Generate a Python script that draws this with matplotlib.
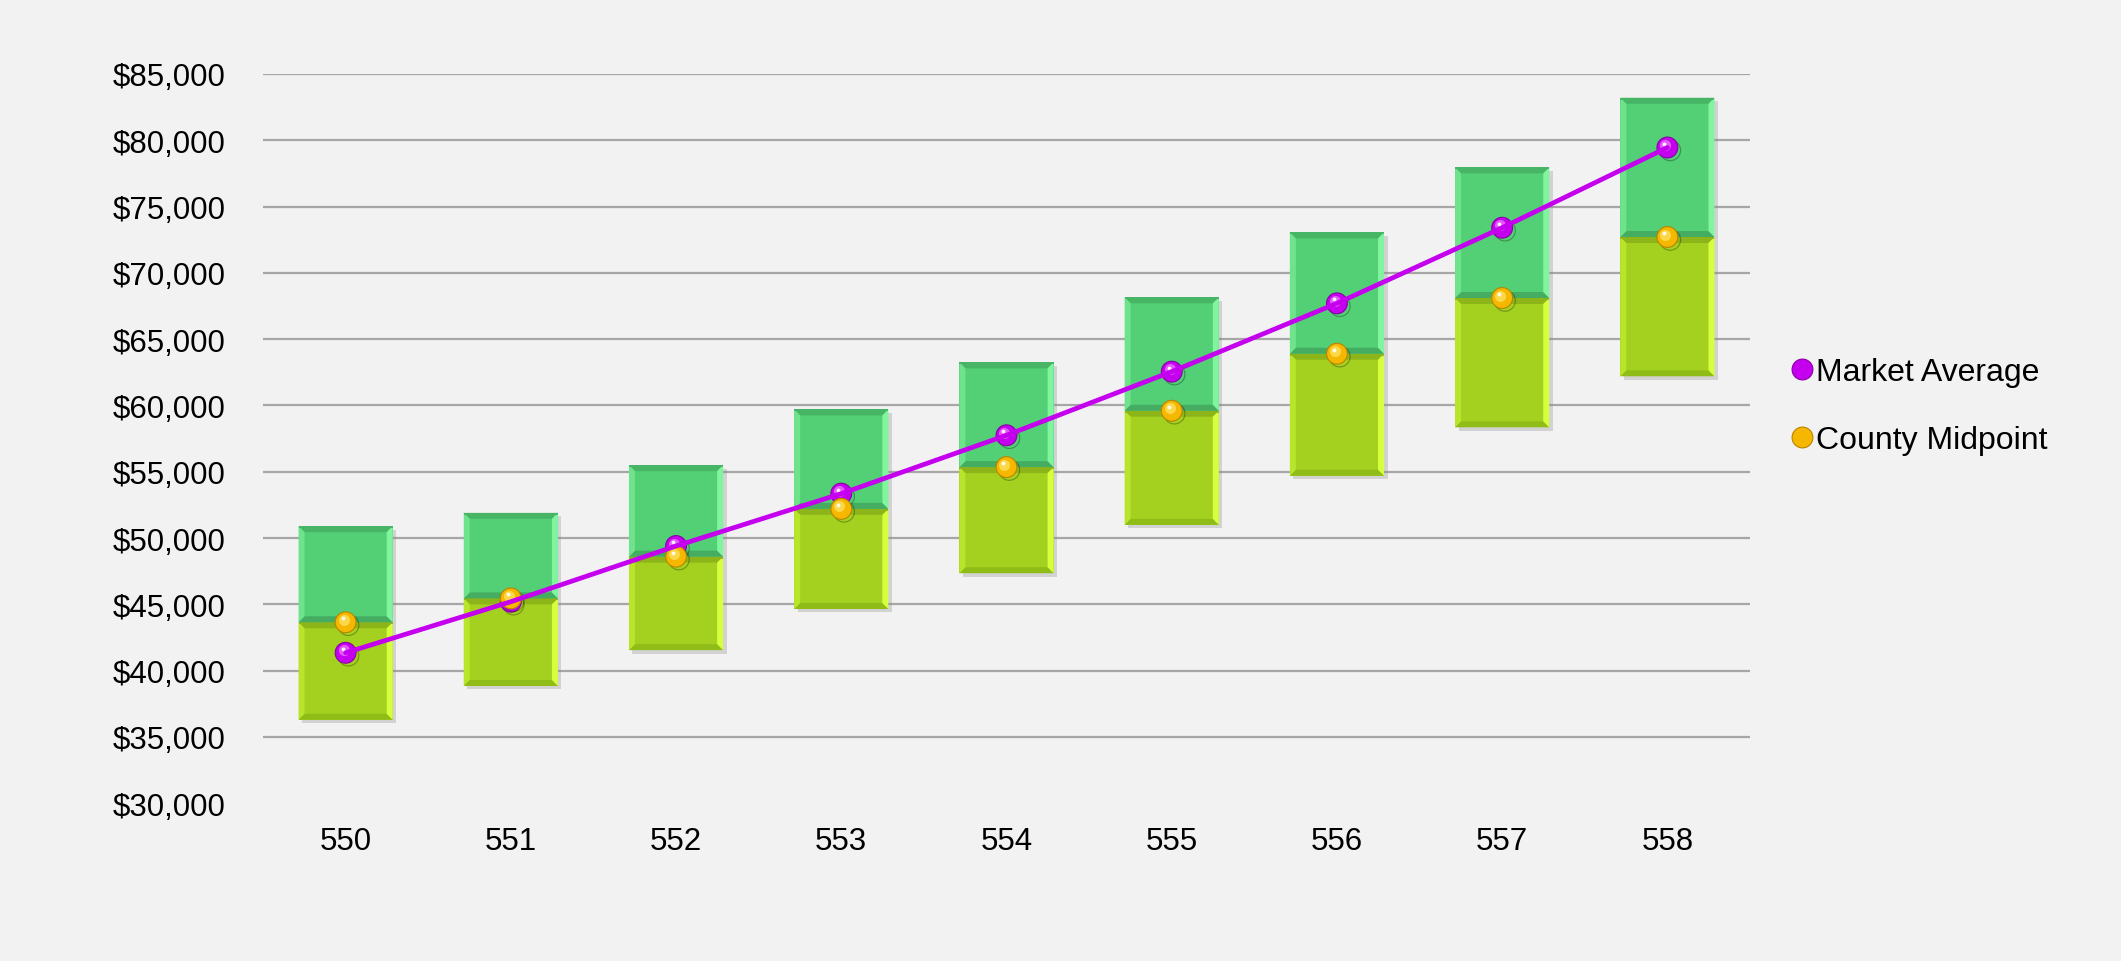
import matplotlib
matplotlib.use("Agg")
import matplotlib.pyplot as plt
import matplotlib.patheffects as pe
from matplotlib.patches import Polygon
from matplotlib.lines import Line2D
from matplotlib.transforms import offset_copy, IdentityTransform
from matplotlib.ticker import FuncFormatter

# Salary grades and ranges
grades = ["550", "551", "552", "553", "554", "555", "556", "557", "558"]
range_min = [36300, 38850, 41550, 44650, 47350, 51000, 54700, 58350, 62200]
county_mid = [43650, 45450, 48600, 52200, 55350, 59600, 63900, 68100, 72700]
range_max = [50900, 51900, 55500, 59700, 63250, 68150, 73050, 77950, 83200]
market_avg = [41350, 45200, 49400, 53350, 57750, 62550, 67700, 73400, 79450]

y_ticks = list(range(30000, 85001, 5000))

plt.rcParams["font.family"] = ["Liberation Sans", "DejaVu Sans"]

BG = "#F2F2F2"
DPI = 100
fig = plt.figure(figsize=(21.21, 9.62), dpi=DPI, facecolor=BG)
ax = fig.add_axes([263 / 2121, 1 - 804.3 / 962, (1750 - 263) / 2121, (804.3 - 74.9) / 962])
ax.set_facecolor(BG)

x = list(range(len(grades)))
ax.set_xlim(-0.5, len(grades) - 0.5)
ax.set_ylim(30000, 85000)

# gridlines (none at the baseline)
for v in y_ticks[1:]:
    ax.axhline(v, color="#A6A6A6", lw=1.6, zorder=0)

bar_w = 0.57
lower_h = [m - lo for m, lo in zip(county_mid, range_min)]
upper_h = [hi - m for hi, m in zip(range_max, county_mid)]

shadow = [pe.SimplePatchShadow(offset=(2.5, -2.5), shadow_rgbFace="#8a8a8a", alpha=0.3), pe.Normal()]
lower = ax.bar(x, lower_h, bottom=range_min, width=bar_w, color="#A4D11F", zorder=2,
               path_effects=shadow, linewidth=0)
upper = ax.bar(x, upper_h, bottom=county_mid, width=bar_w, color="#53CF75", zorder=2,
               path_effects=shadow, linewidth=0)


def add_bevel(rect, top_c, bot_c, left_c, right_c, bw=6):
    """Draw bevelled edges on a bar, in pixel units."""
    x0, y0 = ax.transData.transform((rect.get_x(), rect.get_y()))
    x1, y1 = ax.transData.transform((rect.get_x() + rect.get_width(), rect.get_y() + rect.get_height()))
    sides = [
        ([(x0, y1), (x1, y1), (x1 - bw, y1 - bw), (x0 + bw, y1 - bw)], top_c),
        ([(x0, y0), (x1, y0), (x1 - bw, y0 + bw), (x0 + bw, y0 + bw)], bot_c),
        ([(x0, y0), (x0, y1), (x0 + bw, y1 - bw), (x0 + bw, y0 + bw)], left_c),
        ([(x1, y0), (x1, y1), (x1 - bw, y1 - bw), (x1 - bw, y0 + bw)], right_c),
    ]
    for pts, c in sides:
        ax.add_patch(Polygon(pts, closed=True, facecolor=c, edgecolor="none",
                             transform=IdentityTransform(), zorder=3))
    # thin dark rim along the top
    ax.add_patch(Polygon([(x0, y1), (x1, y1), (x1, y1 - 2), (x0, y1 - 2)], closed=True,
                         facecolor=top_c, edgecolor="none", alpha=0.9,
                         transform=IdentityTransform(), zorder=3))


for r in lower:
    add_bevel(r, "#8DB51A", "#90BC17", "#B9E42C", "#D6FF3E")
for r in upper:
    add_bevel(r, "#47B466", "#44AD62", "#6FE38C", "#80F59E")


def sphere(values, base, edge, light, zorder):
    ax.plot(x, values, ls="none", marker="o", ms=15, mfc=base, mec=edge, mew=0.8, zorder=zorder,
            path_effects=[pe.SimpleLineShadow(offset=(2, -2), alpha=0.3), pe.Normal()])
    t = offset_copy(ax.transData, fig=fig, x=-2.0, y=2.5, units="dots")
    ax.plot(x, values, ls="none", marker="o", ms=8, mfc=light, mec="none", alpha=0.7,
            transform=t, zorder=zorder + 0.1)
    t2 = offset_copy(ax.transData, fig=fig, x=-3.0, y=4.0, units="dots")
    ax.plot(x, values, ls="none", marker="o", ms=2.8, mfc="white", mec="none", alpha=0.9,
            transform=t2, zorder=zorder + 0.2)


MAG = "#C400EE"
GOLD = "#F5B700"
sphere(market_avg, MAG, "#8A00A8", "#F280FF", 4)
sphere(county_mid, GOLD, "#B98400", "#FFE566", 5)
ax.plot(x, market_avg, color=MAG, lw=3.4, zorder=6, solid_capstyle="round")

ax.set_xticks(x)
ax.set_xticklabels(grades)
ax.set_yticks(y_ticks)
ax.yaxis.set_major_formatter(FuncFormatter(lambda v, p: f"${v:,.0f}"))
ax.tick_params(axis="both", length=0, labelsize=22.5, colors="black")
ax.tick_params(axis="x", pad=16)
ax.tick_params(axis="y", pad=27)
for s in ax.spines.values():
    s.set_visible(False)

handles = [
    Line2D([], [], ls="none", marker="o", ms=15, mfc=MAG, mec="#8A00A8", mew=0.8),
    Line2D([], [], ls="none", marker="o", ms=15, mfc=GOLD, mec="#B98400", mew=0.8),
]
ax.legend(handles, ["Market Average", "County Midpoint"], loc="center left",
          bbox_to_anchor=(1776 / 2121, 1 - 407 / 962), bbox_transform=fig.transFigure,
          frameon=False, fontsize=23, handlelength=0.6, handletextpad=0.15,
          labelspacing=1.18, borderpad=0)

fig.savefig("out.png", dpi=DPI, facecolor=BG)
